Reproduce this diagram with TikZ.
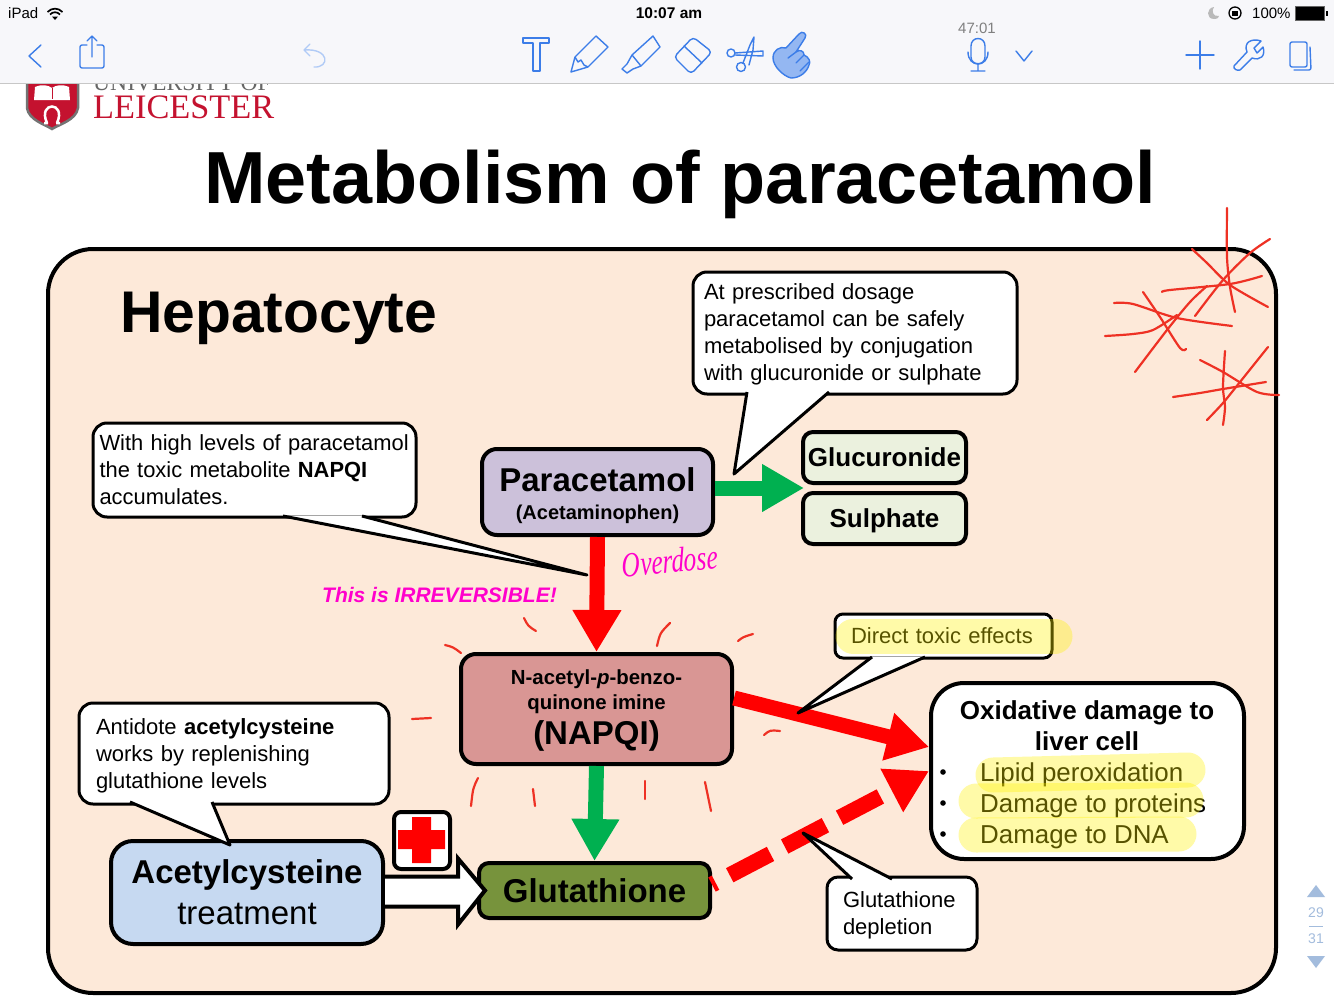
\documentclass[tikz,border=0pt]{standalone}
\usepackage{fontspec}
\setmainfont{Liberation Sans}
\newfontfamily\serifa{Liberation Serif}
\usetikzlibrary{arrows.meta,calc}
\definecolor{peachCell}{HTML}{FDE9D9}
\definecolor{paraLilac}{HTML}{CCC1DA}
\definecolor{napqiRose}{HTML}{D99694}
\definecolor{glutaOlive}{HTML}{77933C}
\definecolor{acetilBlue}{HTML}{C6D9F1}
\definecolor{conjPale}{HTML}{EBF1DE}
\definecolor{inkRed}{HTML}{EE3124}
\definecolor{inkPink}{HTML}{FF00CC}
\definecolor{barGrey}{HTML}{F7F7FA}
\definecolor{iconBlue}{HTML}{3C7DE8}
\definecolor{pageBlue}{HTML}{A3BCDD}
\definecolor{uniRed}{HTML}{C4122F}
\definecolor{arrowGreen}{HTML}{00B050}
\newcommand{\pts}[1]{\fontsize{#1}{#1}\selectfont}
\newcommand{\bubbletail}[3]{%
  \fill[white] (#1) -- (#2) -- (#3) -- cycle;
  \draw[black,line width=3pt,line join=round] (#1) -- (#2) -- (#3);%
}
\begin{document}
\begin{tikzpicture}[x=1pt,y=-1pt,
  stepbox/.style={draw=black,line width=4pt,rounded corners=15pt,align=center,inner sep=0pt},
  bubble/.style={draw=black,fill=white,line width=3pt,rounded corners=14pt,align=left,
    inner xsep=8pt,inner ysep=0pt,font=\fontsize{22}{27}\selectfont},
  redArrow/.style={draw=red,line width=15pt,-{Triangle[length=42pt,width=46pt]}},
  greenArrow/.style={draw=arrowGreen,line width=15pt,-{Triangle[length=42pt,width=45pt]}},
  scribble/.style={draw=inkRed,line width=2.2pt,line cap=round,line join=round},
  marker/.style={draw=yellow,opacity=0.34,line width=35pt,line cap=round},
  icon/.style={draw=iconBlue,line width=1.4pt,line join=round,line cap=round}]
  \useasboundingbox (0,0) rectangle (1334,1001);
  \fill[white] (0,0) rectangle (1334,1001);
  % Logo, cut off by the toolbar drawn later.
  \begin{scope}
    \fill[uniRed,draw=black!55,line width=2.5pt] (27,80) -- (27,108) .. controls (29,120) and (44,124) .. (52,129)
      .. controls (60,124) and (76,120) .. (78,108) -- (78,80) -- cycle;
    \fill[white] (35,87) .. controls (42,84) and (48,85) .. (52,88) .. controls (56,85) and (62,84) .. (69,87)
      -- (70,100) -- (34,100) -- cycle;
    \draw[uniRed,line width=1pt] (52,88) -- (52,99);
    \draw[white,line width=2.5pt] (47,123) .. controls (37,101) and (67,101) .. (57,123) (44,123) -- (48,123) (56,123) -- (60,123);
  \end{scope}
  \node[anchor=base west,inner sep=0pt,text=black!60,font=\serifa\pts{23.6}] (uni) at (93,90) {UNIVERSITY OF};
  \node[anchor=base west,inner sep=0pt,text=uniRed,font=\serifa\pts{34.3}] (leic) at (93,118) {LEICESTER};
  % Toolbar and status line.
  \fill[barGrey] (0,0) rectangle (1334,83);
  \draw[black!22,line width=1.2pt] (0,83.5) -- (1334,83.5);
  \node[inner sep=0pt,anchor=west,font=\pts{15}] (ipad) at (8,13) {iPad};
  \draw[line width=1.7pt] (47.5,12) .. controls (52,7.5) and (58,7.5) .. (62.5,12)
    (50,14.5) .. controls (53,11.5) and (57,11.5) .. (60,14.5);
  \fill (52,16.5) -- (58,16.5) -- (55,20) -- cycle;
  \node[inner sep=0pt,font=\bfseries\pts{15.5}] (clock) at (669,13) {10:07 am};
  \fill[black!27] (1214,7) .. controls (1206,8) and (1206,19) .. (1214,19)
    .. controls (1218,19) and (1219,17) .. (1219,16) .. controls (1213,17) and (1211,11) .. (1214,7);
  \draw[line width=1.3pt] (1235,13) circle (6);
  \fill (1232,11) rectangle (1238,16);
  \node[inner sep=0pt,anchor=west,font=\pts{15}] (batt) at (1252,13) {100\%};
  \fill[black] (1296,7) rectangle (1324,20);
  \draw[black!60,line width=1pt] (1295.5,6.5) rectangle (1324.5,20.5);
  \fill[black] (1326,11) rectangle (1328,16);
  \node[inner sep=0pt,text=black!50,font=\pts{15}] (timer) at (977,28) {47:01};
  \draw[icon] (41,45) -- (29,56) -- (41,67);
  \draw[icon,rounded corners=2pt] (87,45) -- (80,45) -- (80,68) -- (104,68) -- (104,45) -- (97,45);
  \draw[icon] (92,57) -- (92,36) (87,41) -- (92,36) -- (97,41);
  \draw[icon,draw=iconBlue!40] (310,44) -- (304,50) -- (310,56) (304,50) .. controls (330,48) and (330,68) .. (314,67);
  \draw[icon] (523,38) -- (549,38) -- (549,43) -- (540,43) -- (540,71) -- (533,71) -- (533,43) -- (523,43) -- cycle;
  \draw[icon] (571,72) -- (575,57) -- (596,36) -- (608,47) -- (588,67) -- cycle
    (575,57) -- (578,62) -- (581,60) -- (584,65) -- (588,67);
  \draw[icon] (632,55) -- (653,36) -- (660,47) -- (641,66) -- cycle
    (632,55) -- (627,64) -- (622,69) -- (627,73) -- (633,69) -- (641,66);
  \draw[icon,rounded corners=4pt] (693,37) -- (712,52) -- (691,74) -- (674,57) -- cycle;
  \draw[icon] (684,46) -- (702,63);
  \draw[icon] (731,53) circle (4) (741,67) circle (4.5);
  \draw[icon] (743,63) -- (750,45) -- (754,37) -- (753,50) -- (749,65)
    (735,53) -- (763,51) -- (763,56) -- (735,55);
  \draw[icon,fill=iconBlue!55] (799,34) .. controls (802,30) and (808,34) .. (805,38) -- (796,52)
    .. controls (800,49) and (804,51) .. (804,55) .. controls (809,57) and (811,62) .. (809,65)
    .. controls (807,72) and (800,78) .. (791,78) .. controls (783,76) and (773,66) .. (773,58)
    .. controls (773,50) and (780,46) .. (786,48) -- cycle;
  \draw[icon] (788,58) -- (796,52) (796,63) -- (804,55) (800,71) -- (809,62);
  \draw[icon] (971,46) .. controls (971,36) and (985,36) .. (985,46) -- (985,57)
    .. controls (985,66) and (971,66) .. (971,57) -- cycle;
  \draw[icon] (968,52) .. controls (968,68) and (988,68) .. (988,52) (978,64) -- (978,71) (971,71) -- (985,71);
  \draw[icon] (1016,51) -- (1024,61) -- (1032,51);
  \draw[icon] (1186,55) -- (1214,55) (1200,41) -- (1200,69);
  \draw[icon] (1234,66) -- (1247,52) .. controls (1243,42) and (1252,38) .. (1261,41) -- (1254,48) -- (1257,53) -- (1263,47)
    .. controls (1266,56) and (1260,61) .. (1252,58) -- (1240,70) .. controls (1237,71) and (1233,69) .. (1234,66) -- cycle;
  \draw[icon,rounded corners=2pt] (1290,42) rectangle (1307,67);
  \draw[icon,rounded corners=2pt] (1310,47) -- (1311,70) -- (1294,70);
  % Page counter at the right side.
  \fill[pageBlue] (1307,897) -- (1316,885) -- (1325,897) -- cycle;
  \node[inner sep=0pt,text=pageBlue,font=\pts{14}] (pagea) at (1316,913) {29};
  \draw[pageBlue,line width=1pt] (1309,926) -- (1323,926);
  \node[inner sep=0pt,text=pageBlue,font=\pts{14}] (pageb) at (1316,939) {31};
  \fill[pageBlue] (1307,956) -- (1325,956) -- (1316,968) -- cycle;
  % Title and the cell.
  \node[inner sep=0pt,font=\bfseries\pts{73.8}] (title) at (680,184) {Metabolism of paracetamol};
  \node[draw=black,fill=peachCell,line width=4pt,rounded corners=45pt,minimum width=1228pt,minimum height=744pt,inner sep=0pt] (cell) at (662,621) {};
  \node[inner sep=0pt,anchor=base west,font=\bfseries\pts{58.8}] (hepa) at (120,332) {Hepatocyte};
  % The boxes of the pathway.
  \node[stepbox,fill=paraLilac,minimum width=231pt,minimum height=86pt,font=\bfseries\fontsize{20}{28}\selectfont] (para) at (597.5,492)
    {\rule{0pt}{31pt}\fontsize{33}{28}\selectfont Paracetamol\\(Acetaminophen)};
  \node[stepbox,fill=conjPale,rounded corners=10pt,minimum width=163pt,minimum height=51pt,text depth=0pt,font=\bfseries\pts{26}] (gluc) at (884.5,457.5) {Glucuronide};
  \node[stepbox,fill=conjPale,rounded corners=10pt,minimum width=163pt,minimum height=51pt,text depth=0pt,font=\bfseries\pts{26}] (sulph) at (884.5,518.5) {Sulphate};
  \coordinate (conj) at ($(gluc.south west)!0.5!(sulph.north west)+(3,0)$);
  \node[stepbox,fill=napqiRose,minimum width=271pt,minimum height=110pt,font=\bfseries\fontsize{20.4}{25}\selectfont] (napqi) at (596.5,709)
    {\rule{0pt}{18pt}N-acetyl-\textit{p}-benzo-\\quinone imine\\[6pt]\fontsize{33}{33}\selectfont (NAPQI)};
  \node[stepbox,fill=glutaOlive,rounded corners=10pt,minimum width=231pt,minimum height=55pt,font=\bfseries\pts{33}] (gluta) at (594.5,890.5) {Glutathione};
  \node[stepbox,fill=acetilBlue,rounded corners=22pt,minimum width=272pt,minimum height=103pt,font=\fontsize{33}{41}\selectfont] (acetil) at (247,892.5)
    {\textbf{Acetylcysteine}\\treatment};
  \node[stepbox,fill=white,rounded corners=33pt,minimum width=313pt,minimum height=176pt] (oxid) at (1087.5,771) {};
  \node[inner sep=0pt,align=center,anchor=north,font=\bfseries\fontsize{26}{31}\selectfont] (oxidhead) at (1087,700) {Oxidative damage to\\liver cell};
  \foreach \y/\damage in {772/Lipid peroxidation,803/Damage to proteins,834/Damage to DNA}{
    \node[inner sep=0pt,anchor=west,font=\pts{25.9}] at (980,\y+3) {\damage};
    \fill (943,\y) circle (2.8);
  }
  % Arrows between the boxes.
  \draw[greenArrow] (para.east |- conj) -- (conj);
  \draw[redArrow] (para.south) -- (napqi.north);
  \draw[greenArrow] (napqi.south) -- (gluta.north);
  \draw[redArrow] ([yshift=11pt]napqi.east) -- ([yshift=24pt]oxid.west);
  \draw[redArrow,line width=16pt,dash pattern=on 46pt off 16pt,dash phase=42pt] ([yshift=6pt]gluta.east) -- (oxid.west);
  \draw[fill=white,line width=4pt,line join=miter] ($(acetil.east)+(0,-16)$) -- ++(73,0) -- ++(0,-18)
    -- ($(gluta.west)+(8,0)$) -- ($(acetil.east)+(73,32)$) -- ++(0,-18) -- ($(acetil.east)+(0,14)$);
  \node[stepbox,fill=white,rounded corners=7pt,minimum width=56pt,minimum height=57pt] (firstaid) at (422,840.5) {};
  \fill[red] (412,817) rectangle (431,863) (398,830) rectangle (445,849);
  % Speech bubbles, the tails go over their borders.
  \node[bubble,minimum width=324pt,minimum height=122pt,text width=302pt,inner xsep=11pt] (dosage) at (855,333)
    {\rule{0pt}{18pt}At prescribed dosage\\paracetamol can be safely\\metabolised by conjugation\\with glucuronide or sulphate};
  \coordinate (dosagetip) at (734,474);
  \bubbletail{747,392}{dosagetip}{829,392}
  \node[bubble,minimum width=323pt,minimum height=94pt,text width=310pt,inner xsep=6.5pt,font=\fontsize{21.9}{27}\selectfont] (highlevel) at (254.5,470)
    {With high levels of paracetamol\\the toxic metabolite \textbf{NAPQI}\\accumulates.};
  \coordinate (highleveltip) at (587,575);
  \bubbletail{283,516}{highleveltip}{362,516}
  \node[bubble,minimum width=310pt,minimum height=101pt,text width=276pt,inner xsep=17pt] (antidote) at (234,753.5)
    {\rule{0pt}{20pt}Antidote \textbf{acetylcysteine}\\works by replenishing\\glutathione levels};
  \coordinate (antidotetip) at (230,845);
  \bubbletail{130,802}{antidotetip}{212,802}
  \node[bubble,minimum width=217pt,minimum height=44pt,text width=185pt,inner xsep=16pt,rounded corners=8pt] (direct) at (943.5,636) {Direct toxic effects};
  \coordinate (directtip) at (798,713);
  \bubbletail{872,657}{directtip}{925,657}
  \node[bubble,minimum width=150pt,minimum height=73pt,text width=118pt,inner xsep=16pt,rounded corners=11pt] (deplete) at (902,913.5) {\rule{0pt}{20pt}Glutathione\\depletion};
  \coordinate (depletetip) at (803,833);
  \bubbletail{852,879}{depletetip}{892,879}
  % Handwriting on top of the slide.
  \node[inner sep=0pt,text=inkPink,font=\bfseries\itshape\pts{21}] (irrev) at (439.5,595) {This is IRREVERSIBLE!};
  \node[inner sep=0pt,xscale=0.72,rotate=4,text=inkPink,font=\serifa\itshape\pts{35}] (over) at (670,561) {Overdose};
  \draw[marker] (853,636) -- (1055,636);
  \draw[marker] (993,775) -- (1188,770);
  \draw[marker] (976,801) -- (1186,800);
  \draw[marker] (976,835) -- (1179,834);
  % Red strokes around NAPQI.
  \foreach \ax/\ay/\bx/\by/\cx/\cy in {445/645/453/647/461/653, 524/618/528/626/536/631, 670/623/660/633/657/646,
    738/641/743/637/753/634, 412/719/421/718/431/718, 764/735/770/730/780/731,
    478/778/473/788/471/806, 533/789/534/797/535/806, 645/781/645/790/645/799, 705/782/708/796/711/811}{
    \draw[scribble] (\ax,\ay) .. controls (\bx,\by) .. (\cx,\cy);
  }
  % Scribbles at the top corner of the cell.
  \foreach \ax/\ay/\bx/\by/\cx/\cy/\dx/\dy in {1227/208/1227/257/1230/287/1235/312, 1270/239/1250/253/1223/280/1195/316,
    1192/249/1207/263/1230/285/1268/307, 1162/292/1170/290/1230/284/1262/276,
    1207/286/1190/302/1167/330/1135/372, 1114/303/1133/304/1177/318/1232/326,
    1143/292/1160/317/1180/348/1186/349, 1105/336/1133/334/1153/330/1177/315,
    1225/351/1223/387/1225/407/1223/425, 1268/347/1240/382/1223/403/1207/420,
    1200/360/1223/372/1257/392/1279/395, 1173/397/1200/393/1223/389/1266/382}{
    \draw[scribble] plot[smooth] coordinates {(\ax,\ay) (\bx,\by) (\cx,\cy) (\dx,\dy)};
  }
\end{tikzpicture}
\end{document}
